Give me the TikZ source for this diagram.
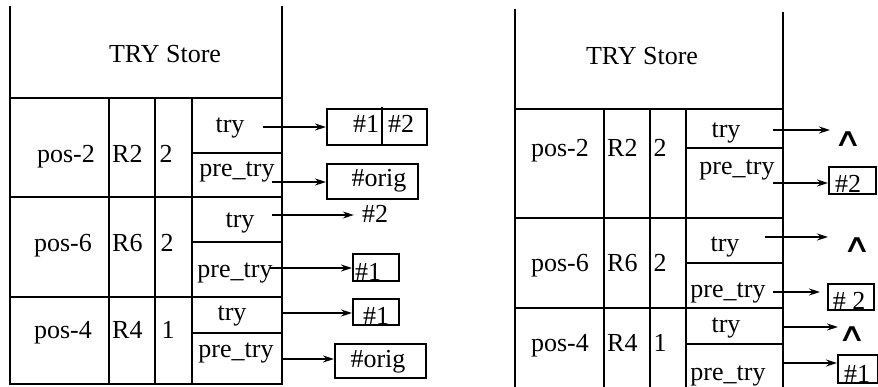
\documentclass[tikz,border=0pt]{standalone}
\usepackage{graphicx}
\usepackage{fontspec}
\setmainfont{Liberation Serif}
\newfontfamily\wedgefont{DejaVu Sans}
\usetikzlibrary{arrows.meta}
\newcommand{\nilsym}{\scalebox{1.15}[0.75]{∧}}
\begin{document}
\begin{tikzpicture}[x=1pt,y=-1pt,
  grid/.style={line width=1.7pt, line cap=rect},
  lbl/.style={font=\fontsize{26}{31}\selectfont, inner sep=0pt, anchor=base},
  lblw/.style={lbl, anchor=base west},
  valbox/.style={draw, line width=1.7pt, inner sep=0pt, anchor=north west},
  ptr/.style={line width=1.5pt, -{Stealth[length=11pt,width=7pt]}},
  nil/.style={font=\wedgefont\fontsize{34}{40}\selectfont, inner sep=0pt},
]
\useasboundingbox (0,0) rectangle (878,387);

% ---------------- left store ----------------
\draw[grid] (10,7) -- (10,384) -- (282,384) -- (282,7);
\draw[grid] (10,98) -- (282,98);
\draw[grid] (10,197) -- (282,197);
\draw[grid] (10,297) -- (282,297);
\foreach \x in {109,155,192} \draw[grid] (\x,98) -- (\x,384);
\foreach \y in {153,242,333} \draw[grid] (192,\y) -- (282,\y);

\node[lbl] (ltitle) at (165,63) {TRY Store};

\node[lbl]  (lp1) at (66,163) {pos-2};
\node[lblw] (lr1) at (112,163) {R2};
\node[lbl]  (ln1) at (166,163) {2};
\node[lbl]  (lt1txt) at (230,133) {try};
\node[lbl]  (lq1txt) at (237,177) {pre\_try};

\node[lbl]  (lp2) at (63,252) {pos-6};
\node[lblw] (lr2) at (112,252) {R6};
\node[lbl]  (ln2) at (167,252) {2};
\node[lbl]  (lt2txt) at (240,228) {try};
\node[lbl]  (lq2txt) at (235,278) {pre\_try};

\node[lbl]  (lp3) at (63,338) {pos-4};
\node[lblw] (lr3) at (112,338) {R4};
\node[lbl]  (ln3) at (168,338) {1};
\node[lbl]  (lt3txt) at (232,320) {try};
\node[lbl]  (lq3txt) at (236,357) {pre\_try};

% value boxes of the left store
\node[valbox, minimum width=100pt, minimum height=36pt] (lb1) at (326,108) {};
\draw[grid] (382,108) -- (382,144);
\node[lbl] (lb1a) at (366,133) {\#1};
\node[lbl] (lb1b) at (401,133) {\#2};

\node[valbox, minimum width=91pt, minimum height=35pt] (lb2) at (326,163) {};
\node[lbl] (lb2a) at (379,187) {\#orig};

\node[lbl] (lv3) at (375,223) {\#2};

\node[valbox, minimum width=46pt, minimum height=27pt] (lb4) at (352,253) {};
\node[lbl] (lb4a) at (368,281) {\#1};

\node[valbox, minimum width=46pt, minimum height=26pt] (lb5) at (352,298) {};
\node[lbl] (lb5a) at (376,324) {\#1};

\node[valbox, minimum width=91pt, minimum height=34pt] (lb6) at (334,343) {};
\node[lbl] (lb6a) at (378,367) {\#orig};

% pointers of the left store
\coordinate (ls1) at (263,127);
\coordinate (ls2) at (272,182);
\coordinate (ls3) at (272,215);
\coordinate (ls4) at (270,268);
\coordinate (ls5) at (282,313);
\coordinate (ls6) at (282,359);
\draw[ptr] (ls1) -- (ls1 -| lb1.west);
\draw[ptr] (ls2) -- (ls2 -| lb2.west);
\draw[ptr, shorten >=8pt] (ls3) -- (ls3 -| lv3.west);
\draw[ptr] (ls4) -- (ls4 -| lb4.west);
\draw[ptr] (ls5) -- (ls5 -| lb5.west);
\draw[ptr] (ls6) -- (ls6 -| lb6.west);

% ---------------- right store ----------------
\draw[grid] (515,10) -- (515,387);
\draw[grid] (783,13) -- (783,387);
\draw[grid] (515,109) -- (783,109);
\draw[grid] (515,218) -- (783,218);
\draw[grid] (515,308) -- (783,308);
\foreach \x in {604,650,686} \draw[grid] (\x,109) -- (\x,387);
\foreach \y in {148,263,344} \draw[grid] (686,\y) -- (783,\y);

\node[lbl] (rtitle) at (642,65) {TRY Store};

\node[lbl]  (rp1) at (560,157) {pos-2};
\node[lblw] (rr1) at (607,157) {R2};
\node[lbl]  (rn1) at (660,157) {2};
\node[lbl]  (rt1txt) at (726,138) {try};
\node[lbl]  (rq1txt) at (737,175) {pre\_try};

\node[lbl]  (rp2) at (560,272) {pos-6};
\node[lblw] (rr2) at (607,272) {R6};
\node[lbl]  (rn2) at (660,272) {2};
\node[lbl]  (rt2txt) at (725,252) {try};
\node[lbl]  (rq2txt) at (728,298) {pre\_try};

\node[lbl]  (rp3) at (560,352) {pos-4};
\node[lblw] (rr3) at (607,352) {R4};
\node[lbl]  (rn3) at (660,352) {1};
\node[lbl]  (rt3txt) at (726,332) {try};
\node[lbl]  (rq3txt) at (728,380) {pre\_try};

% values of the right store
\node[nil] (rw1) at (848,139) {\nilsym};
\node[valbox, minimum width=47pt, minimum height=27pt] (rb2) at (828,166) {};
\node[lbl] (rb2a) at (848,193) {\#2};
\node[nil] (rw3) at (857,245) {\nilsym};
\node[valbox, minimum width=46pt, minimum height=26pt] (rb4) at (827,283) {};
\node[lbl] (rb4a) at (849,309) {\# 2};
\node[nil] (rw5) at (852,334) {\nilsym};
\node[valbox, minimum width=40pt, minimum height=28pt] (rb6) at (837,354) {};
\node[lbl] (rb6a) at (857,382) {\#1};

% pointers of the right store
\coordinate (rs1) at (773,130);
\coordinate (rs2) at (773,183);
\coordinate (rs3) at (765,237);
\coordinate (rs4) at (773,292);
\coordinate (rs5) at (783,327);
\coordinate (rs6) at (783,363);
\draw[ptr] (rs1) -- ++(57,0);
\draw[ptr] (rs2) -- (rs2 -| rb2.west);
\draw[ptr] (rs3) -- ++(63,0);
\draw[ptr, shorten >=7pt] (rs4) -- (rs4 -| rb4.west);
\draw[ptr] (rs5) -- ++(55,0);
\draw[ptr] (rs6) -- (rs6 -| rb6.west);
\end{tikzpicture}
\end{document}
